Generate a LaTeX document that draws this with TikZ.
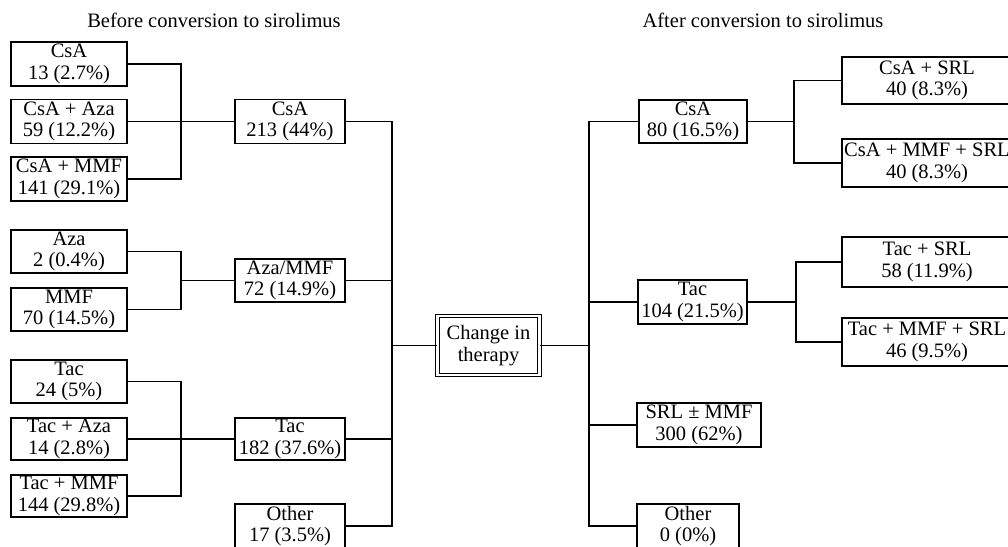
\documentclass[tikz,border=0pt]{standalone}
\usepackage{fontspec}
\setmainfont{Liberation Serif}
\begin{document}
\begin{tikzpicture}[x=1pt,y=-1pt,
  every node/.style={font=\fontsize{20.5}{21.5}\selectfont},
  bx/.style={draw, line width=1.2pt, inner sep=0pt, align=center},
  conn/.style={line width=1.2pt},
  ttl/.style={inner sep=0pt}]
\useasboundingbox (0,0) rectangle (1008,546);
% titles
\node[ttl] (tb) at (214,20) {Before conversion to sirolimus};
\node[ttl] (ta) at (763,20) {After conversion to sirolimus};
% left column
\node[bx, minimum width=116, minimum height=44] (l1) at (69,64) {CsA\\13 (2.7\%)};
\node[bx, minimum width=116, minimum height=44] (l2) at (69,121.5) {CsA + Aza\\59 (12.2\%)};
\node[bx, minimum width=116, minimum height=44] (l3) at (69,179) {CsA + MMF\\141 (29.1\%)};
\node[bx, minimum width=116, minimum height=43] (l4) at (69,251.5) {Aza\\2 (0.4\%)};
\node[bx, minimum width=116, minimum height=43] (l5) at (69,309.5) {MMF\\70 (14.5\%)};
\node[bx, minimum width=116, minimum height=43] (l6) at (69,381.5) {Tac\\24 (5\%)};
\node[bx, minimum width=116, minimum height=42] (l7) at (69,439) {Tac + Aza\\14 (2.8\%)};
\node[bx, minimum width=116, minimum height=42] (l8) at (69,496) {Tac + MMF\\144 (29.8\%)};
% middle column
\node[bx, minimum width=110, minimum height=44] (m1) at (290,121.5) {CsA\\213 (44\%)};
\node[bx, minimum width=110, minimum height=43] (m2) at (290,280.5) {Aza/MMF\\72 (14.9\%)};
\node[bx, minimum width=110, minimum height=42] (m3) at (290,439) {Tac\\182 (37.6\%)};
\node[bx, minimum width=110, minimum height=44] (m4) at (290,526) {Other\\17 (3.5\%)};
% center
\node[bx, line width=1pt, double, double distance=2.6pt, minimum width=102, minimum height=59] (ch) at (488.5,345.5) {Change in\\therapy};
% right column
\node[bx, minimum width=108, minimum height=43] (r1) at (693,121.5) {CsA\\80 (16.5\%)};
\node[bx, minimum width=109, minimum height=44] (r2) at (692.5,302) {Tac\\104 (21.5\%)};
\node[bx, minimum width=124, minimum height=44] (r3) at (699,425) {SRL ± MMF\\300 (62\%)};
\node[bx, minimum width=102, minimum height=44] (r4) at (688,526) {Other\\0 (0\%)};
% far right
\node[bx, minimum width=170, minimum height=47] (f1) at (927,80.5) {CsA + SRL\\40 (8.3\%)};
\node[bx, minimum width=170, minimum height=48] (f2) at (927,163) {CsA + MMF + SRL\\40 (8.3\%)};
\node[bx, minimum width=170, minimum height=50] (f3) at (927,262) {Tac + SRL\\58 (11.9\%)};
\node[bx, minimum width=170, minimum height=48] (f4) at (927,342) {Tac + MMF + SRL\\46 (9.5\%)};
% junctions
\coordinate (jA) at (181,121.5);
\coordinate (jB) at (181,280.5);
\coordinate (jC) at (181,439);
\coordinate (jL) at (392,345.5);
\coordinate (jR) at (589,345.5);
\coordinate (jRC) at (794,121.5);
\coordinate (jRT) at (796,302);
% left connectors
\draw[conn] (l1.east) -| (jA);
\draw[conn] (l3.east) -| (jA);
\draw[conn] (l2.east) -- (m1.west);
\draw[conn] (l4.east) -| (jB);
\draw[conn] (l5.east) -| (jB);
\draw[conn] (jB) -- (m2.west);
\draw[conn] (l6.east) -| (jC);
\draw[conn] (l8.east) -| (jC);
\draw[conn] (l7.east) -- (m3.west);
\draw[conn] (m1.east) -| (jL);
\draw[conn] (m2.east) -| (jL);
\draw[conn] (m3.east) -| (jL);
\draw[conn] (m4.east) -| (jL);
\draw[conn] (jL) -- (ch.west);
% right connectors
\draw[conn] (ch.east) -- (jR);
\draw[conn] (jR) |- (r1.west);
\draw[conn] (jR) |- (r2.west);
\draw[conn] (jR) |- (r3.west);
\draw[conn] (jR) |- (r4.west);
\draw[conn] (r1.east) -- (jRC);
\draw[conn] (jRC) |- (f1.west);
\draw[conn] (jRC) |- (f2.west);
\draw[conn] (r2.east) -- (jRT);
\draw[conn] (jRT) |- (f3.west);
\draw[conn] (jRT) |- (f4.west);
\end{tikzpicture}
\end{document}
